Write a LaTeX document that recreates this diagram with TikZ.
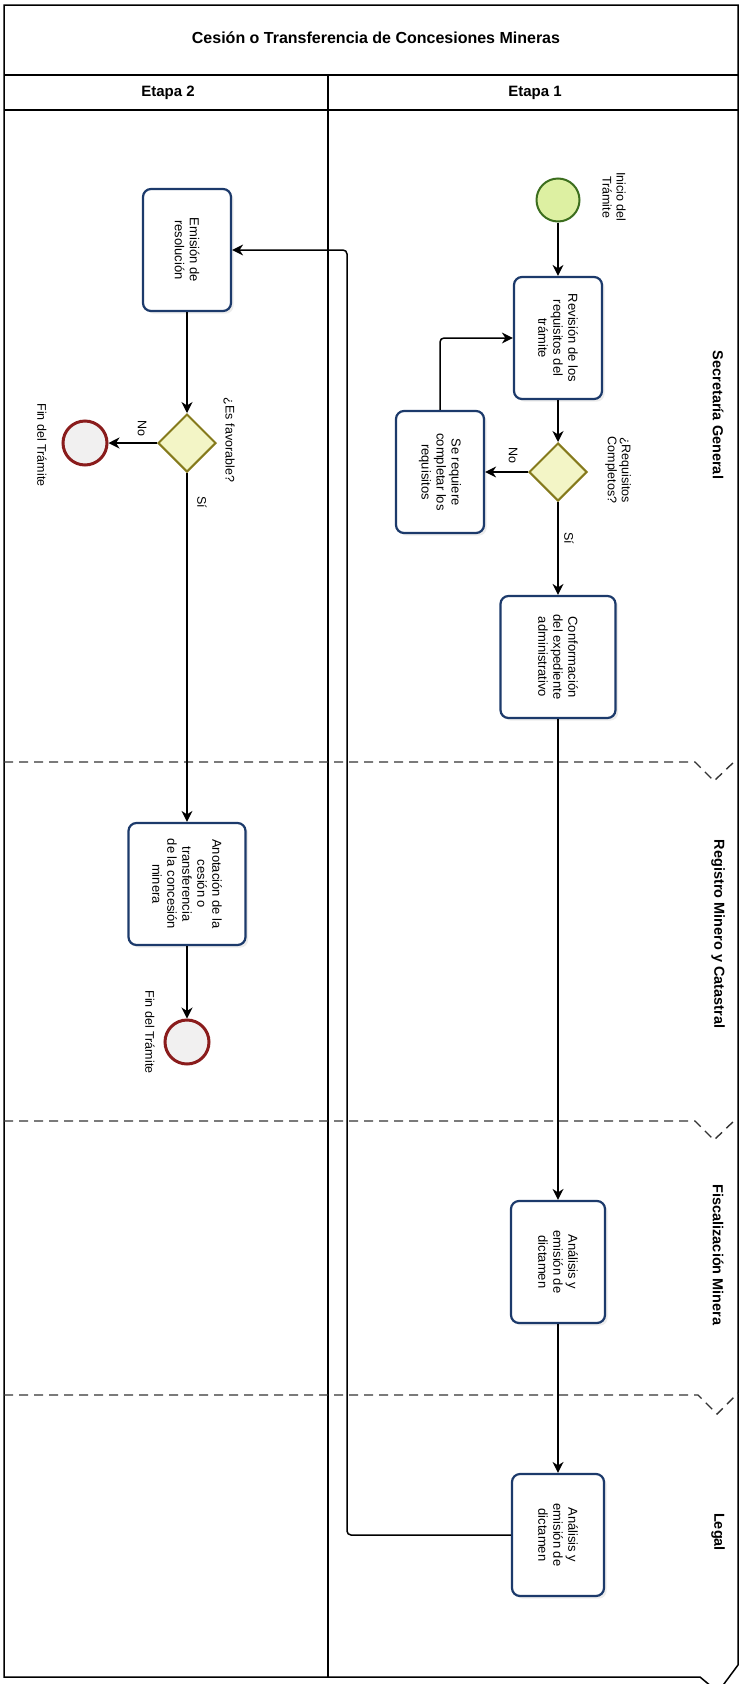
\documentclass[tikz,border=0pt]{standalone}
\usepackage{fontspec}
\setmainfont{Liberation Sans}
\usetikzlibrary{shapes,shadows,arrows.meta}
\definecolor{taskblue}{HTML}{1C3A6B}
\definecolor{gwfill}{HTML}{F3F5C6}
\definecolor{gwdraw}{HTML}{857A1C}
\definecolor{startfill}{HTML}{DDF0A2}
\definecolor{startdraw}{HTML}{3C6E1E}
\definecolor{endfill}{HTML}{F1F0F0}
\definecolor{enddraw}{HTML}{8A1C1C}
\tikzstyle{line} = [draw, line width=1.5pt, -{Stealth[length=11pt,width=11pt,inset=3.5pt]}]
\tikzstyle{task} = [rectangle, draw=taskblue, line width=2.2pt, rounded corners=8pt, fill=white, rotate=-90, minimum width=122pt, minimum height=88pt, align=center, font=\fontsize{13}{15}\selectfont, drop shadow={opacity=0.15}]
\tikzstyle{gateway} = [diamond, draw=gwdraw, line width=2pt, fill=gwfill, minimum size=58pt, inner sep=0pt]
\tikzstyle{startev} = [circle, draw=startdraw, line width=2pt, fill=startfill, minimum size=43pt, inner sep=0pt]
\tikzstyle{endev} = [circle, draw=enddraw, line width=3pt, fill=endfill, minimum size=44pt, inner sep=0pt]
\tikzstyle{lbl} = [rotate=-90, align=center, inner sep=1pt, font=\fontsize{12.5}{14}\selectfont]
\tikzstyle{lanelbl} = [rotate=-90, font=\bfseries\fontsize{14.5}{16}\selectfont]
\tikzstyle{lanesep} = [draw=black!80, line width=1.4pt, dash pattern=on 9pt off 6pt]

\begin{document}
\begin{tikzpicture}[x=1pt, y=1pt]
	\useasboundingbox (0,0) rectangle (746,-1684);
	
	% pool and lanes
	\draw [line width=1.5pt] (738,-1665) -- (738,-5) -- (4,-5) -- (4,-1677) -- (700,-1677) -- (718,-1692) -- (738,-1665);
	\draw [line width=1.5pt] (4,-75) -- (738,-75);
	\draw [line width=1.5pt] (4,-110) -- (738,-110);
	\draw [line width=1.5pt] (328,-75) -- (328,-1677);
	\path [lanesep] (4,-762) -- (695,-762) -- (714,-781) -- (736,-760);
	\path [lanesep] (4,-1121) -- (695,-1121) -- (714,-1140) -- (736,-1119);
	\path [lanesep] (4,-1395) -- (698,-1395) -- (717,-1414) -- (738,-1393);
	
	\node [font=\bfseries\fontsize{16}{18}\selectfont] (titulo) at (376,-38) {Cesión o Transferencia de Concesiones Mineras};
	\node [font=\bfseries\fontsize{15}{17}\selectfont] (etapa2) at (168,-93) {Etapa 2};
	\node [font=\bfseries\fontsize{15}{17}\selectfont] (etapa1) at (535,-93) {Etapa 1};
	
	\node [lanelbl] (sec) at (718,-415) {Secretaría General};
	\node [lanelbl] (reg) at (718,-934) {Registro Minero y Catastral};
	\node [lanelbl] (fis) at (718,-1255) {Fiscalización Minera};
	\node [lanelbl] (leg) at (718,-1532) {Legal};
	
	% Etapa 1
	\node [startev] (inicio) at (558,-200) {};
	\node [lbl] (inicio_lbl) at (614,-197) {Inicio del\\Trámite};
	\node [task] (revision) at (558,-338) {Revisión de los\\requisitos del\\trámite};
	\node [gateway] (req_gw) at (558,-472) {};
	\node [lbl] (req_lbl) at (618,-470) {¿Requisitos\\Completos?};
	\node [task] (completar) at (440,-472) {Se requiere\\completar los\\requisitos};
	\node [lbl] (req_no) at (513,-455) {No};
	\node [lbl] (req_si) at (569,-538) {Sí};
	\node [task, minimum height=115pt] (conformacion) at (558,-657) {Conformación\\del expediente\\administrativo};
	\node [task, minimum height=94pt] (analisis_fis) at (558,-1262) {Análisis y\\emisión de\\dictamen};
	\node [task, minimum height=92pt] (analisis_leg) at (558,-1535) {Análisis y\\emisión de\\dictamen};
	\coordinate (turn) at (347,-400);
	
	% Etapa 2
	\node [task] (emision) at (187,-250) {Emisión de\\resolución};
	\node [gateway] (fav_gw) at (187,-443) {};
	\node [lbl] (fav_lbl) at (229,-440) {¿Es favorable?};
	\node [lbl] (fav_no) at (142,-428) {No};
	\node [lbl] (fav_si) at (202,-502) {Sí};
	\node [endev] (fin1) at (85,-443) {};
	\node [lbl] (fin1_lbl) at (42,-445) {Fin del Trámite};
	\node [task, minimum height=117pt] (anotacion) at (187,-884) {Anotación de la\\cesión o\\transferencia\\de la concesión\\minera};
	\node [endev] (fin2) at (187,-1042) {};
	\node [lbl] (fin2_lbl) at (150,-1032) {Fin del Trámite};
	
	\path [line] (inicio) -- (revision);
	\path [line] (revision) -- (req_gw);
	\path [line] (req_gw) -- (completar);
	\path [line, rounded corners=4pt] (completar) |- (revision);
	\path [line] (req_gw) -- (conformacion);
	\path [line] (conformacion) -- (analisis_fis);
	\path [line] (analisis_fis) -- (analisis_leg);
	\path [line, rounded corners=4pt] (analisis_leg) -| (turn) |- (emision);
	\path [line] (emision) -- (fav_gw);
	\path [line] (fav_gw) -- (fin1);
	\path [line] (fav_gw) -- (anotacion);
	\path [line] (anotacion) -- (fin2);
	
\end{tikzpicture}
\end{document}
